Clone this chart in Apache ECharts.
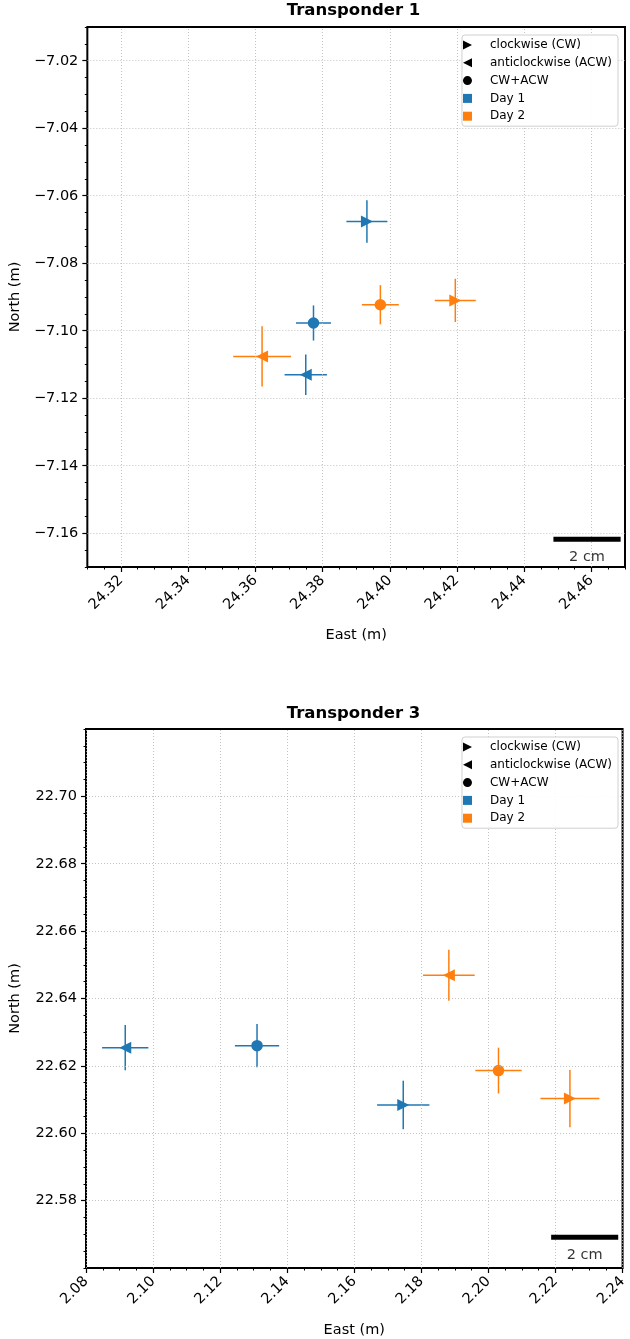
<!DOCTYPE html>
<html>
<head>
<meta charset="utf-8">
<script src="https://cdn.jsdelivr.net/npm/echarts/dist/echarts.min.js"></script>
<style>
html,body{margin:0;padding:0;background:#fff;}
#chart{width:630px;height:1339px;}
</style>
</head>
<body>
<div id="chart"></div>
<script>
// ---------------- DATA ----------------
// rows: [East, North, East error, North error] for CW, ACW, CW+ACW
const solutionTypes = ['clockwise (CW)', 'anticlockwise (ACW)', 'CW+ACW'];
const days = ['Day 1', 'Day 2'];

const t1Day1 = [[24.3932, -7.0676, 0.0061, 0.0063], [24.3750, -7.1130, 0.0063, 0.0060], [24.3773, -7.0977, 0.0052, 0.0052]];
const t1Day2 = [[24.4195, -7.0910, 0.0061, 0.0064], [24.3620, -7.1076, 0.0086, 0.0089], [24.3972, -7.0923, 0.0055, 0.0058]];
const t3Day1 = [[2.1746, 22.6084, 0.0078, 0.0072], [2.0917, 22.6254, 0.0069, 0.0067], [2.1310, 22.6260, 0.0066, 0.0064]];
const t3Day2 = [[2.2243, 22.6103, 0.0088, 0.0085], [2.1882, 22.6469, 0.0077, 0.0076], [2.2030, 22.6186, 0.0069, 0.0068]];

const t1EastRange = [24.31, 24.47];
const t1NorthRange = [-7.17, -7.01];
const t3EastRange = [2.08, 2.24];
const t3NorthRange = [22.56, 22.72];

const t1EastTicks = [24.32, 24.34, 24.36, 24.38, 24.40, 24.42, 24.44, 24.46];
const t1NorthTicks = [-7.16, -7.14, -7.12, -7.10, -7.08, -7.06, -7.04, -7.02];
const t3EastTicks = [2.08, 2.10, 2.12, 2.14, 2.16, 2.18, 2.20, 2.22, 2.24];
const t3NorthTicks = [22.58, 22.60, 22.62, 22.64, 22.66, 22.68, 22.70];

const t1ScaleBarEast = [24.4487, 24.4687];
const t1ScaleBarNorth = -7.1618;
const t3ScaleBarEast = [2.2187, 2.2387];
const t3ScaleBarNorth = 22.5691;
const scaleBarLabel = '2 cm';

const titles = ['Transponder 1', 'Transponder 3'];

// ---------------- STYLE ----------------
const FONT = 'DejaVu Sans';
const C1 = '#1f77b4', C2 = '#ff7f0e';
const P_RIGHT = 'path://M0,0L10,5L0,10Z';
const P_LEFT = 'path://M10,0L0,5L10,10Z';
const P_CIRCLE = 'path://M5,0A5,5,0,1,1,5,10A5,5,0,1,1,5,0Z';
const P_SQUARE = 'path://M0,0L10,0L10,10L0,10Z';
const MARKERS = [P_RIGHT, P_LEFT, P_CIRCLE];
const SIZES = [12, 12, 11.5];

const grids = [
  {left: 82, top: 27, width: 543, height: 540},
  {left: 82, top: 729, width: 543, height: 540}
];

function fmt(v) { return Number(v).toFixed(2).replace('-', '\u2212'); }

function mainX(gi, range, ticks, nameGap) {
  return {
    type: 'value', gridIndex: gi, min: range[0], max: range[1], interval: 0.005, position: 'bottom',
    axisLine: {show: false},
    axisTick: {show: true, inside: false, length: 5, customValues: ticks, lineStyle: {color: '#000', width: 1.2}},
    axisLabel: {customValues: ticks, rotate: 45, formatter: fmt, fontSize: 14.5, fontFamily: FONT, color: '#000', margin: 11},
    splitLine: {show: false},
    name: 'East (m)', nameLocation: 'middle', nameGap: nameGap,
    nameTextStyle: {fontSize: 14.5, fontFamily: FONT, color: '#000'}
  };
}
function minorX(gi, range) {
  return {
    type: 'value', gridIndex: gi, min: range[0], max: range[1], interval: 0.005, position: 'bottom',
    axisLine: {show: false},
    axisTick: {show: true, inside: false, length: 2.5, lineStyle: {color: '#000', width: 1}},
    axisLabel: {show: false}, splitLine: {show: false}
  };
}
function mainY(gi, range, ticks) {
  return {
    type: 'value', gridIndex: gi, min: range[0], max: range[1], interval: 0.005, position: 'left',
    axisLine: {show: false},
    axisTick: {show: true, inside: false, length: 5, customValues: ticks, lineStyle: {color: '#000', width: 1.2}},
    axisLabel: {customValues: ticks, formatter: fmt, fontSize: 14.5, fontFamily: FONT, color: '#000', margin: 9},
    splitLine: {show: false},
    name: 'North (m)', nameLocation: 'middle', nameGap: 63,
    nameTextStyle: {fontSize: 14.5, fontFamily: FONT, color: '#000'}
  };
}
function minorY(gi, range) {
  return {
    type: 'value', gridIndex: gi, min: range[0], max: range[1], interval: 0.005, position: 'left',
    axisLine: {show: false},
    axisTick: {show: true, inside: false, length: 2.5, lineStyle: {color: '#000', width: 1}},
    axisLabel: {show: false}, splitLine: {show: false}
  };
}

// dotted grid lines at the major tick values
function gridLines(ai, xs, ys) {
  return {
    type: 'line', xAxisIndex: ai, yAxisIndex: ai, data: [], silent: true, z: 1,
    markLine: {
      silent: true, symbol: ['none', 'none'], label: {show: false}, animation: false,
      emphasis: {disabled: true},
      lineStyle: {type: [1, 2], color: '#b4b4b4', width: 0.8},
      data: xs.map(v => ({xAxis: v})).concat(ys.map(v => ({yAxis: v})))
    }
  };
}

function errorBars(data, color, ai) {
  return {
    type: 'custom', xAxisIndex: ai, yAxisIndex: ai, data: data, z: 3, silent: true,
    encode: {x: 0, y: 1},
    renderItem: function (params, api) {
      const x = api.value(0), y = api.value(1), ex = api.value(2), ey = api.value(3);
      const a = api.coord([x - ex, y]), b = api.coord([x + ex, y]);
      const c = api.coord([x, y - ey]), d = api.coord([x, y + ey]);
      const st = {stroke: color, lineWidth: 1.5};
      return {type: 'group', children: [
        {type: 'line', shape: {x1: a[0], y1: a[1], x2: b[0], y2: b[1]}, style: st},
        {type: 'line', shape: {x1: c[0], y1: c[1], x2: d[0], y2: d[1]}, style: st}
      ]};
    }
  };
}
function markers(name, data, color, ai) {
  return {
    type: 'scatter', name: name, xAxisIndex: ai, yAxisIndex: ai, data: data.map(r => [r[0], r[1]]), z: 4, silent: true,
    symbol: (v, p) => MARKERS[p.dataIndex], symbolSize: (v, p) => SIZES[p.dataIndex], symbolKeepAspect: true,
    itemStyle: {color: color, opacity: 1}
  };
}
function scaleBar(east, north, ai) {
  return [
    {type: 'line', xAxisIndex: ai, yAxisIndex: ai, data: [[east[0], north], [east[1], north]], symbol: 'none', silent: true, z: 5,
     lineStyle: {color: '#000', width: 5, cap: 'butt'}},
    {type: 'scatter', xAxisIndex: ai, yAxisIndex: ai, data: [[(east[0] + east[1]) / 2, north]], symbol: 'circle', symbolSize: 0.1, silent: true, z: 5,
     itemStyle: {color: 'rgba(0,0,0,0)'},
     label: {show: true, position: 'bottom', distance: 10, formatter: scaleBarLabel, fontSize: 14.5, fontFamily: FONT, color: '#000'}}
  ];
}

const legendItems = [
  {name: solutionTypes[0], icon: P_RIGHT},
  {name: solutionTypes[1], icon: P_LEFT},
  {name: solutionTypes[2], icon: P_CIRCLE},
  {name: days[0], icon: P_SQUARE},
  {name: days[1], icon: P_SQUARE}
];
const legendDummies = [
  {type: 'scatter', name: solutionTypes[0], data: [], xAxisIndex: 0, yAxisIndex: 0, itemStyle: {color: '#000', opacity: 1}},
  {type: 'scatter', name: solutionTypes[1], data: [], xAxisIndex: 0, yAxisIndex: 0, itemStyle: {color: '#000', opacity: 1}},
  {type: 'scatter', name: solutionTypes[2], data: [], xAxisIndex: 0, yAxisIndex: 0, itemStyle: {color: '#000', opacity: 1}},
  {type: 'scatter', name: days[0], data: [], xAxisIndex: 0, yAxisIndex: 0, itemStyle: {color: C1, opacity: 1}},
  {type: 'scatter', name: days[1], data: [], xAxisIndex: 0, yAxisIndex: 0, itemStyle: {color: C2, opacity: 1}}
];
function legend(top) {
  return {
    orient: 'vertical', right: 12, top: top, data: legendItems, z: 10,
    itemWidth: 35, itemHeight: 9, itemGap: 3.8, symbolKeepAspect: true, selectedMode: false,
    itemStyle: {opacity: 1},
    textStyle: {fontSize: 12, fontFamily: FONT, color: '#000', lineHeight: 14},
    backgroundColor: 'rgba(255,255,255,0.92)', borderColor: '#d0d0d0', borderWidth: 1, borderRadius: 3,
    padding: [3, 6, 3, 1]
  };
}

const chart = echarts.init(document.getElementById('chart'), null, {renderer: 'canvas'});
chart.setOption({
  animation: false,
  backgroundColor: '#fff',
  graphic: [
    {type: 'text', x: 353.5, y: 10.5, style: {text: titles[0], textAlign: 'center', textVerticalAlign: 'middle', fontSize: 16.5, fontWeight: 'bold', fontFamily: FONT, fill: '#000'}},
    {type: 'text', x: 353.5, y: 713.5, style: {text: titles[1], textAlign: 'center', textVerticalAlign: 'middle', fontSize: 16.5, fontWeight: 'bold', fontFamily: FONT, fill: '#000'}}
  ],
  grid: grids.map(g => Object.assign({show: true, borderColor: '#000', borderWidth: 2, backgroundColor: 'transparent', containLabel: false}, g)),
  legend: [legend(35), legend(737)],
  xAxis: [mainX(0, t1EastRange, t1EastTicks, 61), mainX(1, t3EastRange, t3EastTicks, 55), minorX(0, t1EastRange), minorX(1, t3EastRange)],
  yAxis: [mainY(0, t1NorthRange, t1NorthTicks), mainY(1, t3NorthRange, t3NorthTicks), minorY(0, t1NorthRange), minorY(1, t3NorthRange)],
  series: [].concat(
    legendDummies,
    [gridLines(0, t1EastTicks, t1NorthTicks), gridLines(1, t3EastTicks, t3NorthTicks)],
    [errorBars(t1Day1, C1, 0), markers('T1 ' + days[0], t1Day1, C1, 0),
     errorBars(t1Day2, C2, 0), markers('T1 ' + days[1], t1Day2, C2, 0),
     errorBars(t3Day1, C1, 1), markers('T3 ' + days[0], t3Day1, C1, 1),
     errorBars(t3Day2, C2, 1), markers('T3 ' + days[1], t3Day2, C2, 1)],
    scaleBar(t1ScaleBarEast, t1ScaleBarNorth, 0),
    scaleBar(t3ScaleBarEast, t3ScaleBarNorth, 1)
  )
});
</script>
</body>
</html>
